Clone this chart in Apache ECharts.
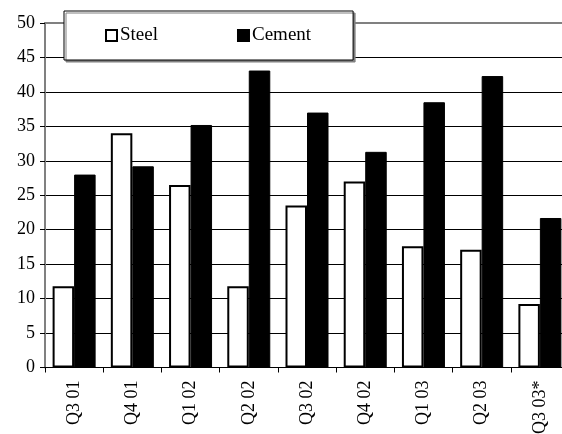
<!DOCTYPE html>
<html>
<head>
<meta charset="utf-8">
<script src="https://cdn.jsdelivr.net/npm/echarts@6/dist/echarts.min.js"></script>
<style>
html,body{margin:0;padding:0;background:#fff;}
#c{width:562px;height:434px;}
</style>
</head>
<body>
<div id="c"></div>
<script>
var categories = ['Q3 01','Q4 01','Q1 02','Q2 02','Q3 02','Q4 02','Q1 03','Q2 03','Q3 03*'];
var steel = [11.8, 34.0, 26.5, 11.8, 23.5, 27.0, 17.6, 17.1, 9.2];
var cement = [28.0, 29.2, 35.2, 43.1, 37.0, 31.3, 38.5, 42.3, 21.7];
var yTicks = {min: 0, max: 50, interval: 5};

var font = '"Liberation Serif", "Times New Roman", Times, serif';
var chart = echarts.init(document.getElementById('c'), null, {renderer: 'canvas'});
chart.setOption({
  animation: false,
  backgroundColor: '#fff',
  textStyle: {fontFamily: font, color: '#000'},
  grid: {left: 45, top: 23, bottom: 66.5, right: -7, containLabel: false, outerBoundsMode: 'none'},
  legend: {
    left: 64, top: 11,
    orient: 'horizontal',
    padding: [15, 42, 15, 41],
    itemGap: 79,
    itemWidth: 11, itemHeight: 11,
    icon: 'rect',
    backgroundColor: '#fff',
    borderColor: '#000', borderWidth: 1,
    shadowColor: '#808080', shadowBlur: 0, shadowOffsetX: 2, shadowOffsetY: 2,
    textStyle: {fontFamily: font, fontSize: 19, color: '#000', padding: [5, 0, 0, -2]},
    data: ['Steel', 'Cement']
  },
  xAxis: [{
    type: 'category',
    data: categories,
    position: 'bottom',
    axisLine: {lineStyle: {color: '#000', width: 1}},
    axisTick: {show: true, length: 5, lineStyle: {color: '#000'}},
    axisLabel: {rotate: 90, margin: 13, fontFamily: font, fontSize: 18, color: '#000'},
    splitLine: {show: false}
  }, {
    type: 'category',
    data: categories,
    position: 'top',
    axisLine: {lineStyle: {color: '#808080', width: 2}},
    axisTick: {show: false},
    axisLabel: {show: false},
    splitLine: {show: false}
  }],
  yAxis: {
    type: 'value',
    min: yTicks.min, max: yTicks.max, interval: yTicks.interval,
    axisLine: {show: true, lineStyle: {color: '#808080', width: 2}},
    axisTick: {show: true, length: 5, lineStyle: {color: '#000'}},
    axisLabel: {margin: 10, fontFamily: font, fontSize: 18, color: '#000'},
    splitLine: {show: true, lineStyle: {color: '#000', width: 1}}
  },
  series: [{
    name: 'Steel',
    type: 'bar',
    data: steel,
    barWidth: 21.5,
    barGap: '0%',
    itemStyle: {color: '#fff', borderColor: '#000', borderWidth: 2}
  }, {
    name: 'Cement',
    type: 'bar',
    data: cement,
    barWidth: 21.5,
    barGap: '0%',
    itemStyle: {color: '#000', borderColor: '#000', borderWidth: 1}
  }]
});
</script>
</body>
</html>
